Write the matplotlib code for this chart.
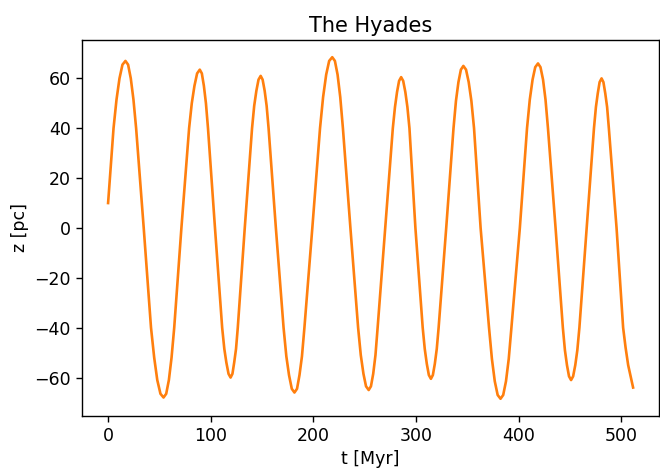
import numpy as np
import matplotlib
matplotlib.use("Agg")
import matplotlib.pyplot as plt

# values
t = [0, 5.3, 8.2, 11.1, 14.0, 16.9, 19.5, 22.1, 24.7, 27.3, 34.7, 41.8,
     44.9, 47.9, 51.0, 54.0, 56.6, 59.2, 61.8, 64.4, 71.4, 78.9,
     81.5, 84.1, 86.7, 89.3, 91.3, 93.3, 95.3, 97.3, 104.1, 111.1,
     113.2, 115.2, 117.3, 119.3, 121.1, 122.8, 124.6, 126.3, 133.1, 140.2,
     142.3, 144.4, 146.5, 148.6, 150.5, 152.5, 154.4, 156.3, 163.4, 170.9,
     173.6, 176.2, 178.9, 181.5, 184.0, 186.4, 188.8, 191.2, 198.9, 206.4,
     209.4, 212.4, 215.3, 218.3, 220.9, 223.5, 226.1, 228.7, 236.0, 243.5,
     246.1, 248.7, 251.2, 253.8, 256.0, 258.2, 260.4, 262.5, 269.9, 277.3,
     279.4, 281.4, 283.4, 285.4, 287.4, 289.5, 291.5, 293.5, 299.3, 306.4,
     308.4, 310.4, 312.4, 314.4, 316.3, 318.2, 320.1, 321.9, 329.3, 336.4,
     338.8, 341.2, 343.6, 346.0, 348.6, 351.2, 353.8, 356.4, 362.8, 371.0,
     373.8, 376.6, 379.4, 382.2, 384.8, 387.5, 390.2, 392.8, 401.0, 408.0,
     410.7, 413.4, 416.0, 418.7, 421.1, 423.6, 426.0, 428.4, 435.8, 442.9,
     444.9, 446.9, 448.9, 450.9, 452.9, 455.0, 457.0, 459.0, 466.1, 473.2,
     475.1, 476.9, 478.7, 480.6, 482.4, 484.2, 486.0, 487.7, 495.2, 501.6,
     504.0, 506.5, 511.3]
z = [10, 40, 51.5, 60, 65.5, 67, 65.5, 60, 51.5, 40, 0, -40,
     -52, -61, -66.5, -68, -66.5, -61, -52, -40, 0, 40,
     50, 57, 62, 63.5, 62, 57, 50, 40, 0, -40,
     -48.5, -54, -58.5, -60, -58.5, -54, -48.5, -40, 0, 40,
     49, 55, 59.5, 61, 59.5, 55, 49, 40, 0, -40,
     -51.5, -59, -64.5, -66, -64.5, -59, -51.5, -40, 0, 40,
     52.5, 61.5, 67, 68.5, 67, 61.5, 52.5, 40, 0, -40,
     -51, -58.5, -63.5, -65, -63.5, -58.5, -51, -40, 0, 40,
     48.5, 54.5, 59, 60.5, 59, 54.5, 48.5, 40, 0, -40,
     -48.5, -54.5, -59, -60.5, -59, -54.5, -48.5, -40, 0, 40,
     51, 58.5, 63.5, 65, 63.5, 58.5, 51, 40, 0, -40,
     -52.5, -61.5, -67, -68.5, -67, -61.5, -52.5, -40, 0, 40,
     51.5, 59.5, 64.5, 66, 64.5, 59.5, 51.5, 40, 0, -40,
     -49, -55, -59.5, -61, -59.5, -55, -49, -40, 0, 40,
     48.5, 54, 58.5, 60, 58.5, 54, 48.5, 40, 0, -40,
     -48, -55, -64]

plt.rcParams['font.size'] = 12.5
plt.rcParams['axes.linewidth'] = 1.0
plt.rcParams['xtick.major.size'] = 4.4
plt.rcParams['ytick.major.size'] = 4.4
plt.rcParams['xtick.major.width'] = 1.0
plt.rcParams['ytick.major.width'] = 1.0

fig = plt.figure(figsize=(6.6, 4.72), dpi=100)
ax = fig.add_axes([0.124, 0.119, 0.875, 0.796])
ax.plot(t, z, color='C1', linewidth=1.9, solid_joinstyle='round')
ax.set_title('The Hyades', fontsize=15)
ax.set_xlabel('t [Myr]')
ax.set_ylabel('z [pc]')
fig.savefig('out.png', dpi=100)
